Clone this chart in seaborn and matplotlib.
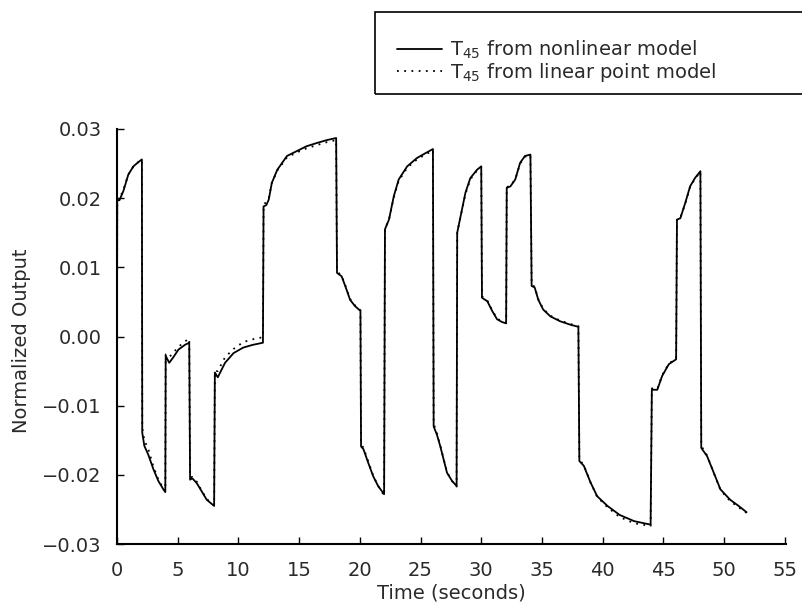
import matplotlib
matplotlib.use("Agg")
import matplotlib.pyplot as plt
from matplotlib.patches import Rectangle
import seaborn as sns
import pandas as pd

# ---- data ----
time_s = [
    0.00, 0.02, 0.20, 0.52, 0.93, 1.35, 1.75, 2.05,
    2.08, 2.25, 2.58, 3.00, 3.41, 3.82, 3.98,
    4.01, 4.30, 4.60, 5.06, 5.60, 5.95,
    6.02, 6.20, 6.57, 6.98, 7.39, 8.00,
    8.06, 8.30, 8.90, 9.60, 10.40, 11.20, 12.02,
    12.07, 12.30, 12.50, 12.75, 13.20, 14.00, 14.80, 15.60, 16.50, 17.30, 18.05,
    18.12, 18.50, 18.80, 19.20, 19.60, 20.05,
    20.10, 20.30, 20.70, 21.10, 21.50, 22.00,
    22.07, 22.40, 22.80, 23.20, 23.90, 24.70, 25.40, 26.02,
    26.08, 26.35, 26.63, 27.18, 27.60, 27.97,
    28.02, 28.30, 28.70, 29.10, 29.65, 30.00,
    30.06, 30.50, 30.90, 31.30, 31.70, 32.05,
    32.10, 32.40, 32.80, 33.20, 33.60, 34.05,
    34.15, 34.40, 34.70, 35.10, 35.70, 36.50, 37.35, 38.00,
    38.08, 38.45, 39.00, 39.55, 40.40, 41.40, 42.60, 43.95,
    44.05, 44.50, 44.90, 45.45, 46.05,
    46.12, 46.40, 46.80, 47.20, 47.60, 48.05,
    48.12, 48.60, 49.15, 49.70, 50.50, 51.20, 51.85,
]

nonlinear = [
    0.0000, 0.0197, 0.0197, 0.0210, 0.0234, 0.0246, 0.0252, 0.0256,
    -0.0139, -0.0158, -0.0171, -0.0192, -0.0209, -0.0221, -0.0225,
    -0.0028, -0.0038, -0.0031, -0.0019, -0.0012, -0.0009,
    -0.0207, -0.0205, -0.0212, -0.0224, -0.0236, -0.0245,
    -0.0052, -0.0059, -0.0038, -0.0024, -0.0016, -0.0012, -0.0009,
    0.0188, 0.0190, 0.0198, 0.0222, 0.0241, 0.0261, 0.0268, 0.0275, 0.0280, 0.0284, 0.0287,
    0.0092, 0.0087, 0.0073, 0.0053, 0.0044, 0.0037,
    -0.0159, -0.0163, -0.0183, -0.0202, -0.0216, -0.0228,
    0.0155, 0.0169, 0.0203, 0.0227, 0.0246, 0.0258, 0.0265, 0.0271,
    -0.0130, -0.0142, -0.0159, -0.0197, -0.0209, -0.0216,
    0.0150, 0.0174, 0.0208, 0.0229, 0.0241, 0.0246,
    0.0056, 0.0051, 0.0037, 0.0025, 0.0021, 0.0019,
    0.0215, 0.0217, 0.0227, 0.0251, 0.0261, 0.0263,
    0.0073, 0.0071, 0.0053, 0.0039, 0.0029, 0.0022, 0.0017, 0.0014,
    -0.0180, -0.0187, -0.0211, -0.0231, -0.0245, -0.0258, -0.0267, -0.0272,
    -0.0077, -0.0077, -0.0057, -0.0040, -0.0033,
    0.0169, 0.0171, 0.0193, 0.0217, 0.0229, 0.0239,
    -0.0161, -0.0173, -0.0197, -0.0221, -0.0236, -0.0245, -0.0254,
]

linear_point = [
    0.0000, 0.0199, 0.0199, 0.0212, 0.0234, 0.0246, 0.0252, 0.0255,
    -0.0132, -0.0150, -0.0163, -0.0188, -0.0207, -0.0220, -0.0224,
    -0.0026, -0.0030, -0.0024, -0.0015, -0.0007, -0.0003,
    -0.0204, -0.0203, -0.0210, -0.0223, -0.0235, -0.0244,
    -0.0050, -0.0050, -0.0030, -0.0018, -0.0008, -0.0004, -0.0001,
    0.0190, 0.0195, 0.0200, 0.0222, 0.0240, 0.0259, 0.0266, 0.0272, 0.0277, 0.0281, 0.0284,
    0.0094, 0.0088, 0.0074, 0.0054, 0.0045, 0.0038,
    -0.0155, -0.0161, -0.0181, -0.0201, -0.0216, -0.0230,
    0.0156, 0.0169, 0.0201, 0.0225, 0.0244, 0.0256, 0.0263, 0.0269,
    -0.0126, -0.0140, -0.0158, -0.0196, -0.0209, -0.0217,
    0.0151, 0.0173, 0.0206, 0.0227, 0.0240, 0.0245,
    0.0058, 0.0052, 0.0038, 0.0026, 0.0022, 0.0020,
    0.0216, 0.0218, 0.0227, 0.0250, 0.0260, 0.0262,
    0.0075, 0.0072, 0.0054, 0.0040, 0.0030, 0.0023, 0.0018, 0.0015,
    -0.0178, -0.0186, -0.0211, -0.0232, -0.0247, -0.0261, -0.0270, -0.0274,
    -0.0075, -0.0076, -0.0056, -0.0039, -0.0032,
    0.0170, 0.0172, 0.0192, 0.0216, 0.0228, 0.0238,
    -0.0158, -0.0172, -0.0197, -0.0222, -0.0238, -0.0247, -0.0255,
]

x_ticks = [0, 5, 10, 15, 20, 25, 30, 35, 40, 45, 50, 55]
y_ticks = [-0.03, -0.02, -0.01, 0.00, 0.01, 0.02, 0.03]
label_nonlinear = r"$\mathregular{T_{45}}$ from nonlinear model"
label_linear = r"$\mathregular{T_{45}}$ from linear point model"

# ---- style ----
sns.set_theme(style="ticks")
plt.rcParams["font.family"] = ["DejaVu Sans"]
plt.rcParams["mathtext.fontset"] = "dejavusans"
text_color = "#2a2a2a"
FS = 14

df = pd.DataFrame({"t": time_s, "nonlinear": nonlinear, "linear": linear_point})

fig = plt.figure(figsize=(8.03, 6.02), dpi=100)
W, H = 803, 602
ax = fig.add_axes([117 / W, 1 - 544 / H, (786 - 117) / W, (544 - 129) / H])

sns.lineplot(data=df, x="t", y="nonlinear", ax=ax, color="black", lw=1.3,
             estimator=None, sort=False, label=label_nonlinear)
sns.lineplot(data=df, x="t", y="linear", ax=ax, color="black", lw=1.3,
             linestyle=(0, (1, 3)), estimator=None, sort=False, label=label_linear)

ax.set_xlim(0, 55.1)
ax.set_ylim(-0.03, 0.03)
ax.set_xticks(x_ticks)
ax.set_yticks(y_ticks)
ax.set_xticklabels([str(v) for v in x_ticks])
ax.set_yticklabels([f"{v:.2f}".replace("-", "\u2212") if v != 0 else "0.00" for v in y_ticks])

for side in ["top", "right"]:
    ax.spines[side].set_visible(False)
for side in ["left", "bottom"]:
    ax.spines[side].set_linewidth(1.5)
    ax.spines[side].set_color("black")

ax.tick_params(axis="both", direction="in", length=5, width=1, colors="black",
               labelsize=FS, labelcolor=text_color, bottom=True, left=True)
ax.tick_params(axis="x", pad=12)
ax.tick_params(axis="y", pad=11)

ax.set_xlabel("Time (seconds)", fontsize=FS, color=text_color)
ax.set_ylabel("Normalized Output", fontsize=FS, color=text_color)
ax.xaxis.set_label_coords(0.5, -0.094)
ax.yaxis.set_label_coords(-0.128, 0.49)

handles, labels = ax.get_legend_handles_labels()
ax.get_legend().remove()
leg = fig.legend(handles, labels, loc="upper left",
                 bbox_to_anchor=(397 / W, 1 - 39 / H), frameon=False,
                 fontsize=FS, handlelength=2.3, handletextpad=0.45,
                 labelspacing=0.0, borderpad=0, borderaxespad=0)
for txt in leg.get_texts():
    txt.set_color(text_color)

fig.patches.append(Rectangle((375 / W, 1 - 94 / H), 440 / W, 82 / H,
                             transform=fig.transFigure, fill=False,
                             edgecolor="black", lw=1.2, clip_on=False))

fig.savefig("out.png", dpi=100)
